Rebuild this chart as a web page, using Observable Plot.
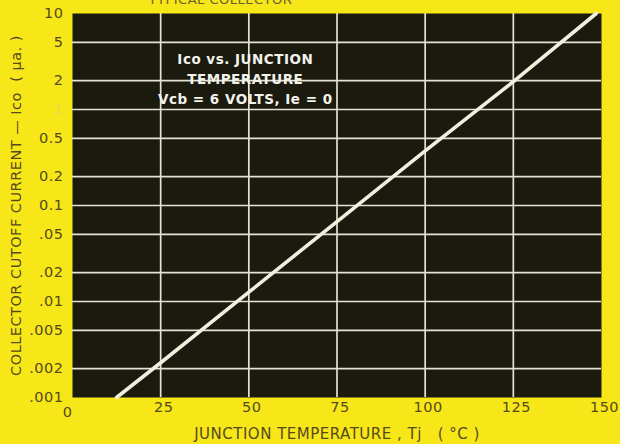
<!DOCTYPE html>
<html><head><meta charset="utf-8">
<script src="https://cdn.jsdelivr.net/npm/d3@7"></script>
<script src="https://cdn.jsdelivr.net/npm/@observablehq/plot@0.6"></script>
<style>
html,body{margin:0;padding:0;background:#f7e618;}
#chart{width:620px;height:444px;overflow:hidden;}
#chart text{letter-spacing:0.5px;}
</style></head><body><div id="chart"></div>
<script>
// Data
const temperatures = [12.5, 25, 50, 75, 100, 125, 148.5];          // °C
const icoMicroamps = [0.001, 0.0023, 0.0125, 0.068, 0.37, 1.95, 10]; // µA
const xTicks = [0, 25, 50, 75, 100, 125, 150];
const xGrid = [25, 50, 75, 100, 125];
const yTicks = [10, 5, 2, 1, 0.5, 0.2, 0.1, 0.05, 0.02, 0.01, 0.005, 0.002, 0.001];
const yTickLabels = ["10", "5", "2", "1", "0.5", "0.2", "0.1", ".05", ".02", ".01", ".005", ".002", ".001"];
const yGrid = yTicks.filter(v => v < 10 && v > 0.001);
const noteLines = ["Ico vs. JUNCTION", "TEMPERATURE", "Vcb = 6 VOLTS, Ie = 0"];
const noteAnchor = [{t: 49, v: 2.15}];
const xLabel = "JUNCTION TEMPERATURE , Tj   ( °C )";
const yLabel = "COLLECTOR CUTOFF CURRENT — Ico  ( µa. )";
const topTitle = "TYPICAL COLLECTOR";

const curve = temperatures.map((t, i) => ({t, v: icoMicroamps[i]}));
const font = "'DejaVu Sans','Liberation Sans',sans-serif";
const ink = "#544a1c";
const plotBg = "#1a1a0f";
const gridColor = "#e4e2d4";

const chart = Plot.plot({
  width: 620, height: 444,
  marginLeft: 72, marginRight: 19, marginTop: 13, marginBottom: 47,
  style: {background: "#f7e618", fontFamily: font},
  x: {domain: [0, 150], axis: null},
  y: {type: "log", domain: [0.001, 10], axis: null},
  marks: [
    Plot.frame({fill: plotBg, stroke: null}),
    Plot.ruleX(xGrid, {stroke: gridColor, strokeWidth: 1.7}),
    Plot.ruleY(yGrid, {stroke: gridColor, strokeWidth: 1.7}),
    Plot.line(curve, {x: "t", y: "v", stroke: "#f3efdc", strokeWidth: 3.6}),
    Plot.text(noteAnchor, {x: "t", y: "v", text: () => noteLines.join("\n"),
      lineHeight: 1.5, fontSize: 13.5, fontWeight: "bold", fill: "#f2f2ea", ariaLabel: "note"}),
    Plot.text(yTicks, {y: d => d, text: (d, i) => yTickLabels[i], frameAnchor: "left",
      dx: -9, textAnchor: "end", fontSize: 14.5,
      fill: d => d === 1 ? "#ebdd48" : ink}),
    Plot.text(xTicks.slice(0, 1), {x: d => d, text: d => String(d), frameAnchor: "bottom",
      dy: 19, dx: -5, fontSize: 14.5, fill: ink}),
    Plot.text(xTicks.slice(1), {x: d => d, text: d => String(d), frameAnchor: "bottom",
      dy: 14, dx: 3, fontSize: 14.5, fill: ink}),
    Plot.text([xLabel], {text: d => d, frameAnchor: "bottom", dy: 41, fontSize: 15, fill: ink}),
    Plot.text([yLabel], {text: d => d, frameAnchor: "left", dx: -56, rotate: -90,
      textAnchor: "middle", fontSize: 14.5, fill: ink}),
    Plot.text([topTitle], {text: d => d, frameAnchor: "top-left", dx: 76, dy: -10,
      textAnchor: "start", lineAnchor: "bottom", fontSize: 13, fill: "#6a6030"})
  ]
});
document.getElementById("chart").appendChild(chart);

// dark panel behind the annotation, sized from the rendered text
const noteG = chart.querySelector('g[aria-label="note"]');
if (noteG) {
  const bb = noteG.getBBox();
  const r = document.createElementNS("http://www.w3.org/2000/svg", "rect");
  r.setAttribute("x", bb.x - 5);
  r.setAttribute("y", bb.y - 2);
  r.setAttribute("width", bb.width + 10);
  r.setAttribute("height", bb.height + 2);
  r.setAttribute("fill", plotBg);
  noteG.parentNode.insertBefore(r, noteG);
}
</script>
</body></html>
